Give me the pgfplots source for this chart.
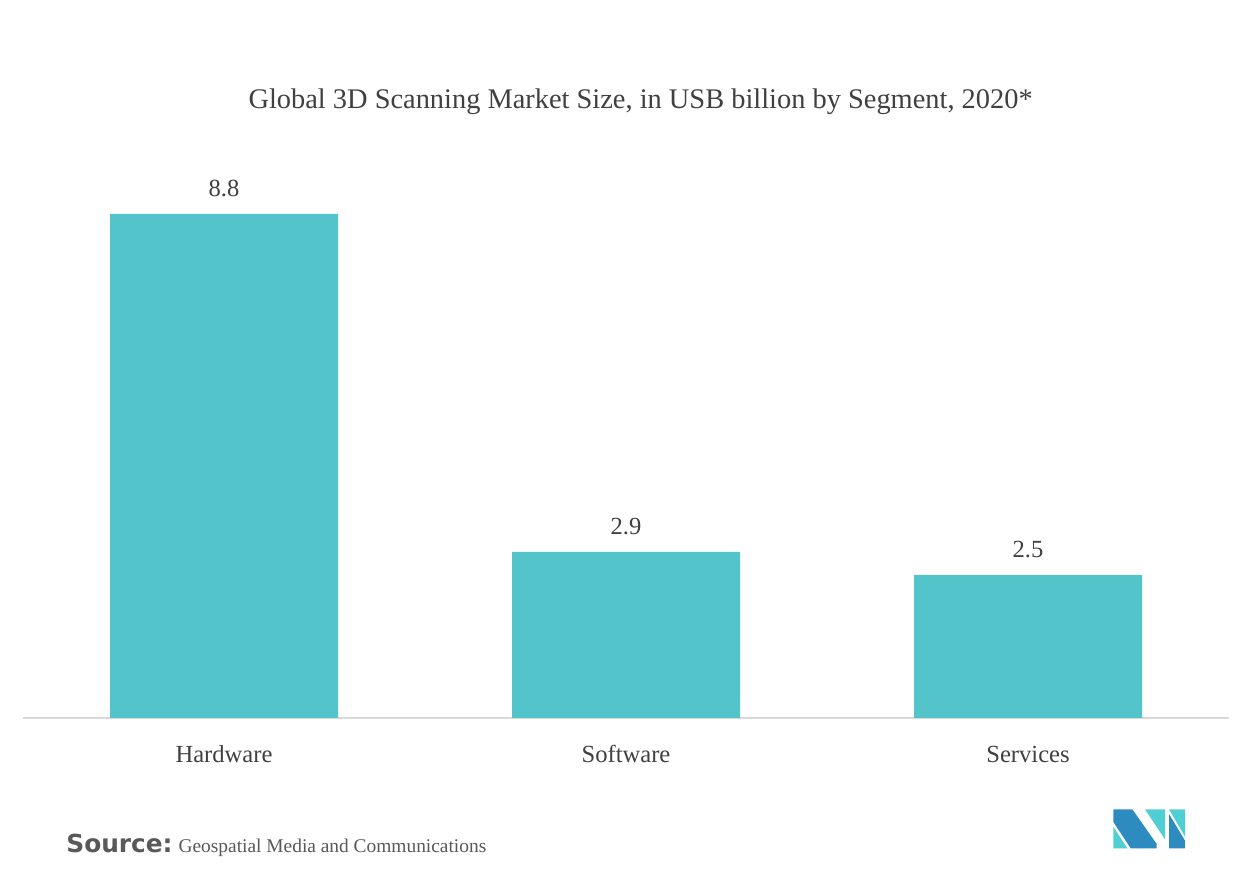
\documentclass[border=0pt]{standalone}
\usepackage{pgfplots}
\pgfplotsset{compat=1.18}
\usepackage{fontspec}
\setmainfont{Liberation Serif}
\newfontfamily\srcfont{DejaVu Sans}
\definecolor{barc}{HTML}{52C4CA}
\definecolor{txt}{HTML}{404040}
\definecolor{axc}{HTML}{D9D9D9}
\definecolor{logod}{HTML}{2E8BC0}
\definecolor{logot}{HTML}{4FCFD3}
\definecolor{srcc}{HTML}{595959}
\begin{document}
\begin{tikzpicture}
\path[use as bounding box, fill=white] (0pt,0pt) rectangle (626.5pt,440.5pt);
\node[font=\fontsize{14.2}{16}\selectfont, text=txt] at (320.3pt,389.5pt) {Global 3D Scanning Market Size, in USB billion by Segment, 2020*};
\begin{axis}[
  at={(11.5pt,81.5pt)}, anchor=south west,
  scale only axis, width=603pt, height=252pt,
  xmin=-0.5, xmax=2.5, ymin=0, ymax=8.8,
  enlargelimits=false, clip=false,
  ybar, bar width=114pt,
  axis y line=none, axis x line*=bottom,
  x axis line style={axc, line width=0.75pt},
  xtick={0,1,2}, xticklabels={Hardware,Software,Services},
  major tick length=0pt,
  xticklabel style={font=\fontsize{12.3}{14}\selectfont, text=txt, anchor=base, yshift=-22.5pt},
  /pgf/number format/assume math mode=true,
  /pgf/number format/fixed, /pgf/number format/precision=1,
  nodes near coords,
  every node near coord/.append style={font=\fontsize{12.3}{14}\selectfont, text=txt, anchor=base, inner sep=0pt, yshift=8.5pt},
]
\addplot[fill=barc, draw=none] coordinates {(0,8.8) (1,2.9) (2,2.5)};
\end{axis}
\node[anchor=base west, inner sep=0pt, text=srcc] at (33pt,14pt) {{\srcfont\bfseries\fontsize{12.4}{14}\selectfont Source:}\hspace{3pt}{\fontsize{9.7}{12}\selectfont Geospatial Media and Communications}};
\begin{scope}[shift={(545pt,45.5pt)}, x={(0.16667pt,0pt)}, y={(0pt,-0.16667pt)}]
\fill[logod] (70,58) -- (127,58) -- (200,162) -- (200,175) -- (122,175) -- (70,96) -- cycle;
\fill[logot] (70,110) -- (70,175) -- (112,175) -- cycle;
\fill[logot] (165,58) -- (225,58) -- (225,148) -- cycle;
\fill[logot] (237,58) -- (285,58) -- (285,140) -- cycle;
\fill[logod] (237,72) -- (285,152) -- (285,175) -- (237,175) -- cycle;
\end{scope}
\end{tikzpicture}
\end{document}
